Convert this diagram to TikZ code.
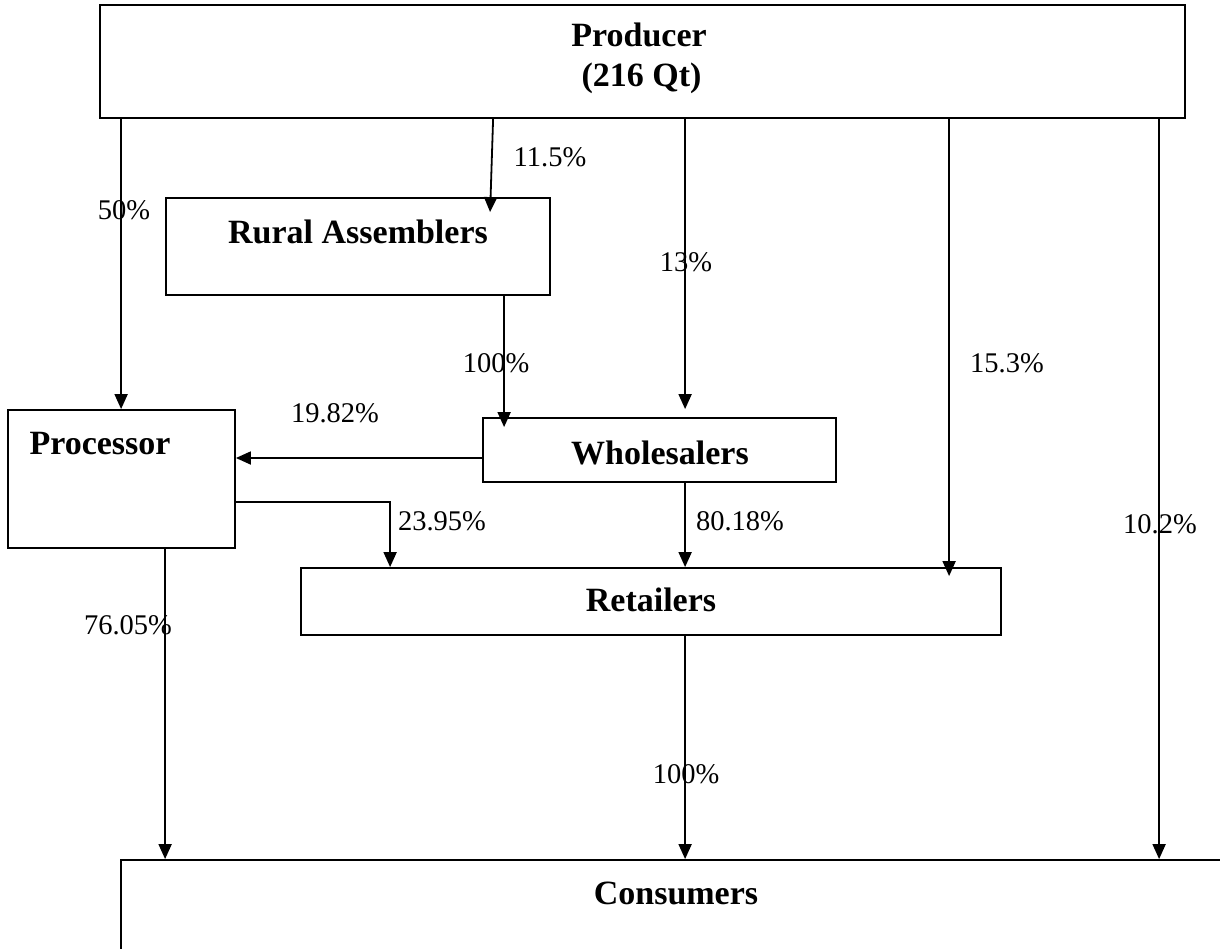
\documentclass[tikz,border=0pt]{standalone}
\usepackage{fontspec}
\setmainfont{Liberation Serif}
\usetikzlibrary{arrows.meta}
\begin{document}
\begin{tikzpicture}[x=1pt,y=-1pt,
  box/.style={draw,line width=1.8pt,rectangle,inner sep=0pt},
  ttl/.style={font=\fontsize{34}{40}\selectfont\bfseries,inner sep=0pt,align=center},
  pct/.style={font=\fontsize{28.5}{32}\selectfont,inner sep=0pt},
  arr/.style={line width=1.8pt,-{Triangle[length=15pt,width=13pt]}}]
\useasboundingbox (0,0) rectangle (1220,949);
\clip (0,0) rectangle (1220,949);
% boxes
\node[box,minimum width=1085pt,minimum height=113pt] (Producer) at (642.5,61.5) {};
\node[box,minimum width=384pt,minimum height=97pt] (RA) at (358,246.5) {};
\node[box,minimum width=227pt,minimum height=138pt] (Processor) at (121.5,479) {};
\node[box,minimum width=353pt,minimum height=64pt] (Wholesalers) at (659.5,450) {};
\node[box,minimum width=700pt,minimum height=67pt] (Retailers) at (651,601.5) {};
\node[box,minimum width=1179pt,minimum height=140pt] (Consumers) at (710.5,930) {};
% titles
\node[ttl] (tProducer) at (639,58) {Producer\\ \hspace*{5pt}(216 Qt)};
\node[ttl] (tRA) at (358,232) {Rural Assemblers};
\node[ttl] (tProcessor) at (100,444) {Processor};
\node[ttl] (tWholesalers) at (660,453) {Wholesalers};
\node[ttl] (tRetailers) at (651,600) {Retailers};
\node[ttl] (tConsumers) at (676,893) {Consumers};
% connectors
\draw[arr] ([xshift=22pt]Producer.south west) -- ([xshift=114pt]Processor.north west);
\draw[arr] ([xshift=394pt]Producer.south west) -- ([xshift=325pt,yshift=-15pt]RA.north west);
\draw[arr] ([xshift=586pt]Producer.south west) -- ([xshift=203pt,yshift=8pt]Wholesalers.north west);
\draw[arr] ([xshift=850pt]Producer.south west) -- ([xshift=649pt,yshift=-9pt]Retailers.north west);
\draw[arr] ([xshift=1060pt]Producer.south west) -- ([xshift=1039pt]Consumers.north west);
\draw[arr] ([xshift=339pt]RA.south west) -- ([xshift=22pt,yshift=-10pt]Wholesalers.north west);
\draw[arr] ([yshift=-8pt]Wholesalers.west) -- ([yshift=21pt]Processor.east);
\draw[arr] ([yshift=-23pt]Processor.east) -| ([xshift=90pt]Retailers.north west);
\draw[arr] ([xshift=203pt]Wholesalers.south west) -- ([xshift=385pt]Retailers.north west);
\draw[arr] ([xshift=158pt]Processor.south west) -- ([xshift=45pt]Consumers.north west);
\draw[arr] ([xshift=385pt]Retailers.south west) -- ([xshift=565pt]Consumers.north west);
% labels
\node[pct] (l1) at (124,210) {50\%};
\node[pct] (l2) at (550,157) {11.5\%};
\node[pct] (l3) at (686,262) {13\%};
\node[pct] (l4) at (496,363) {100\%};
\node[pct] (l5) at (1007,363) {15.3\%};
\node[pct] (l6) at (335,413) {19.82\%};
\node[pct] (l7) at (442,521) {23.95\%};
\node[pct] (l8) at (740,521) {80.18\%};
\node[pct] (l9) at (1160,524) {10.2\%};
\node[pct] (l10) at (128,625) {76.05\%};
\node[pct] (l11) at (686,774) {100\%};
\end{tikzpicture}
\end{document}
